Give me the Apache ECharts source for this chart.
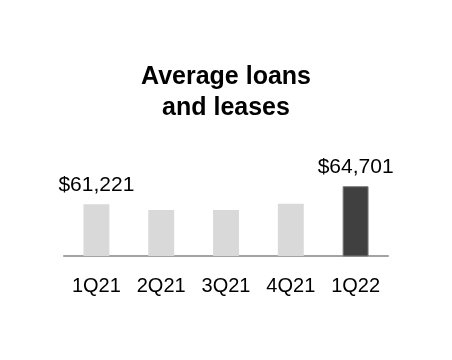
<!DOCTYPE html>
<html>
<head>
<meta charset="utf-8">
<script src="https://cdn.jsdelivr.net/npm/echarts@6/dist/echarts.min.js"></script>
<style>
  html, body { margin: 0; padding: 0; background: #ffffff; }
  #chart { width: 452px; height: 360px; }
</style>
</head>
<body>
<div id="chart"></div>
<script>
const titleText = "Average loans\nand leases";
const categories = ["1Q21", "2Q21", "3Q21", "4Q21", "1Q22"];
const values = [61221, 60100, 60080, 61300, 64701];
const labeledIndices = [0, 4];

const FONT = "'Liberation Sans', Arial, sans-serif";
const lastIdx = values.length - 1;

const seriesData = values.map((v, i) => ({
  value: v,
  itemStyle: i === lastIdx
    ? { color: '#404040', borderColor: '#7a7a7a', borderWidth: 1 }
    : { color: '#d9d9d9' },
  label: { show: labeledIndices.includes(i) }
}));

const chart = echarts.init(document.getElementById('chart'), null, { renderer: 'canvas' });
chart.setOption({
  animation: false,
  backgroundColor: '#ffffff',
  title: {
    text: titleText,
    left: 'center',
    top: 57,
    textStyle: {
      fontFamily: FONT,
      fontSize: 25,
      fontWeight: 'bold',
      color: '#000000',
      lineHeight: 31
    }
  },
  grid: { left: 64, right: 64, top: 150, bottom: 104, containLabel: false },
  xAxis: {
    type: 'category',
    data: categories,
    axisLine: { show: true, lineStyle: { color: '#a3a3a3', width: 2 } },
    axisTick: { show: false },
    axisLabel: {
      fontFamily: FONT,
      fontSize: 20,
      color: '#000000',
      margin: 20
    }
  },
  yAxis: {
    type: 'value',
    min: 51200,
    max: 71700,
    show: false,
    splitLine: { show: false }
  },
  series: [{
    type: 'bar',
    data: seriesData,
    barWidth: '40%',
    label: {
      position: 'top',
      distance: 8,
      fontFamily: FONT,
      fontSize: 21,
      color: '#000000',
      formatter: p => '$' + p.value.toLocaleString('en-US')
    }
  }]
});
</script>
</body>
</html>
